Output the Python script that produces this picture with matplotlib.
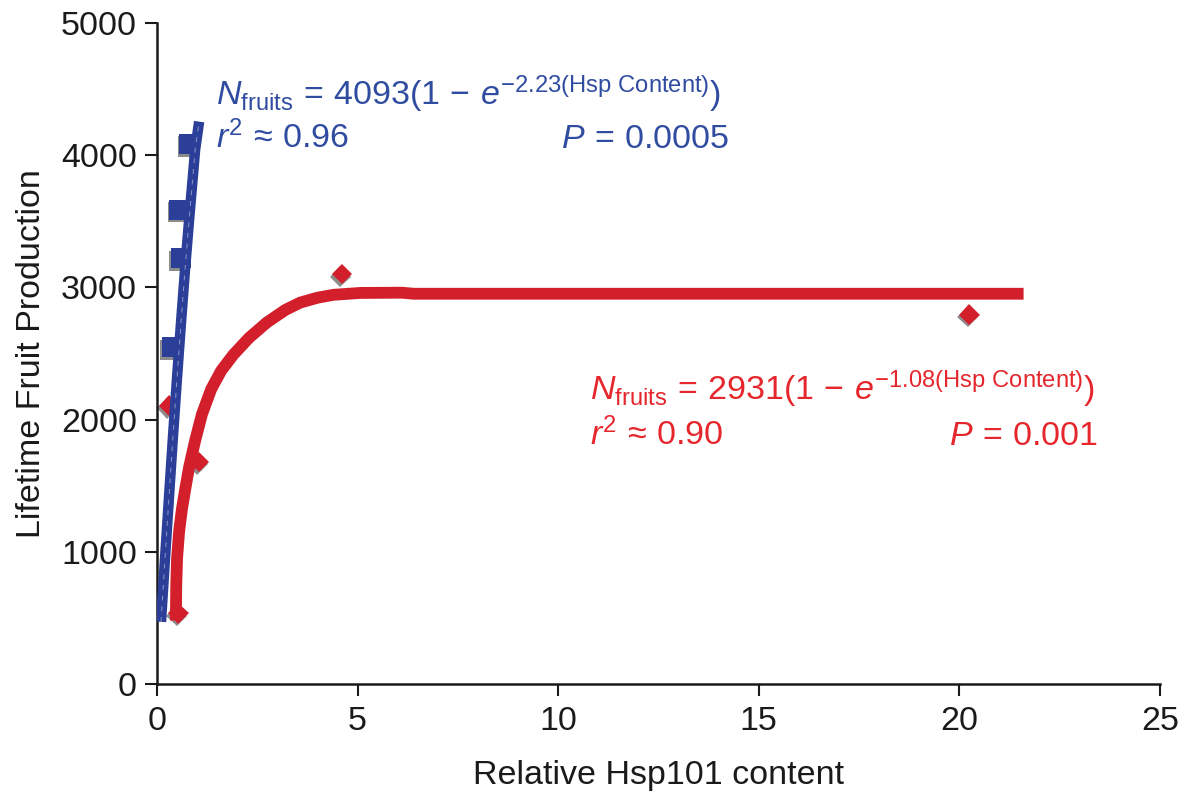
import numpy as np
import matplotlib
matplotlib.use('Agg')
import matplotlib.pyplot as plt
import matplotlib.patheffects as pe

# ------------------------------------------------------------------#
# Values.
# ------------------------------------------------------------------#
# Blue series (squares) and its fitted curve.
BlueX = [0.37, 0.59, 0.56, 0.81]
BlueY = [2547, 3220, 3588, 4085]
BlueFitX = [0.10, 0.20, 0.30, 0.40, 0.50, 0.60, 0.70, 0.80, 0.90, 0.95, 1.05]
BlueFitY = [470, 950, 1420, 1880, 2320, 2740, 3140, 3510, 3860, 4040, 4254]

# Red series (diamonds) and its fitted curve.
RedX = [0.30, 0.53, 1.05, 4.61, 20.25]
RedY = [2105, 535, 1680, 3100, 2795]
RedFitX = [0.47, 0.48, 0.50, 0.55, 0.62, 0.70, 0.80, 0.95, 1.12, 1.35, 1.60,
           1.90, 2.30, 2.74, 3.20, 3.57, 4.00, 4.40, 5.06, 6.10, 6.40, 21.6]
RedFitY = [480, 750, 950, 1150, 1320, 1467, 1640, 1840, 2040, 2230, 2370,
           2490, 2620, 2735, 2830, 2885, 2922, 2944, 2958, 2960, 2952, 2952]

# Annotation texts.
BlueEq = r'$N_{\mathrm{fruits}}\,=\,4093(1\,-\,e^{-2.23(\mathrm{Hsp\ Content})})$'
BlueR2 = r'$r^2\,\approx\,0.96$'
BlueP = r'$P\,=\,0.0005$'
RedEq = r'$N_{\mathrm{fruits}}\,=\,2931(1\,-\,e^{-1.08(\mathrm{Hsp\ Content})})$'
RedR2 = r'$r^2\,\approx\,0.90$'
RedP = r'$P\,=\,0.001$'

XTicks = [0, 5, 10, 15, 20, 25]
YTicks = [0, 1000, 2000, 3000, 4000, 5000]

# ------------------------------------------------------------------#
# Styling.
# ------------------------------------------------------------------#
plt.rcParams['font.family'] = ['Liberation Sans', 'DejaVu Sans']
plt.rcParams['mathtext.fontset'] = 'custom'
plt.rcParams['mathtext.rm'] = 'Liberation Sans'
plt.rcParams['mathtext.it'] = 'Liberation Sans:italic'
plt.rcParams['mathtext.bf'] = 'Liberation Sans:bold'

FontSize = 24.5
BlueColor = '#2b3f98'
BlueText = '#2f4ca0'
RedColor = '#d21f2b'
RedText = '#e5262c'
Shadow = [pe.SimplePatchShadow(offset=(-1.2, -1.8), shadow_rgbFace='#808080', alpha=0.9), pe.Normal()]

W, H = 1192, 802
fig = plt.figure(figsize=(W / 100, H / 100), dpi=100)
ax = fig.add_axes([157 / W, 1 - 684 / H, (1160 - 157) / W, (684 - 23) / H])

# Markers first, fitted curves on top of them.
ax.plot(RedX, RedY, linestyle='none', marker='D', markersize=10.5, color=RedColor,
        markeredgewidth=0, path_effects=Shadow, zorder=2, clip_on=False)
ax.plot(BlueX, BlueY, linestyle='none', marker='s', markersize=14.5, color=BlueColor,
        markeredgewidth=0, path_effects=Shadow, zorder=2, clip_on=False)
ax.plot(RedFitX, RedFitY, color=RedColor, linewidth=8.5, solid_capstyle='butt',
        solid_joinstyle='round', zorder=3)
ax.plot(BlueFitX, BlueFitY, color=BlueColor, linewidth=7.5, solid_capstyle='butt',
        solid_joinstyle='round', zorder=4)
ax.plot(BlueFitX, BlueFitY, color='white', linewidth=0.7, alpha=0.45,
        dashes=(5, 6), zorder=5)

# Axes.
ax.set_xlim(0, 25)
ax.set_ylim(0, 5000)
ax.set_xticks(XTicks)
ax.set_yticks(YTicks)
for s in ['top', 'right']:
    ax.spines[s].set_visible(False)
for s in ['left', 'bottom']:
    ax.spines[s].set_linewidth(1.8)
    ax.spines[s].set_color('#1a1a1a')
ax.tick_params(axis='both', direction='out', length=8.5, width=1.5, color='#1a1a1a',
               labelsize=FontSize, labelcolor='#1a1a1a')
ax.tick_params(axis='y', pad=6)
ax.tick_params(axis='x', pad=7)
ax.set_xlabel('Relative Hsp101 content', fontsize=FontSize, color='#1a1a1a', labelpad=17)
ax.set_ylabel('Lifetime Fruit Production', fontsize=FontSize, color='#1a1a1a', labelpad=10)

# Annotations.
def px(x, y):
    return x / W, 1 - y / H

fig.text(*px(216, 105), BlueEq, color=BlueText, fontsize=FontSize, ha='left', va='baseline')
fig.text(*px(216, 148), BlueR2, color=BlueText, fontsize=FontSize, ha='left', va='baseline')
fig.text(*px(729, 148), BlueP, color=BlueText, fontsize=FontSize, ha='right', va='baseline')
fig.text(*px(590, 400), RedEq, color=RedText, fontsize=FontSize, ha='left', va='baseline')
fig.text(*px(590, 445), RedR2, color=RedText, fontsize=FontSize, ha='left', va='baseline')
fig.text(*px(1098, 445), RedP, color=RedText, fontsize=FontSize, ha='right', va='baseline')

fig.savefig('out.png', dpi=100)
